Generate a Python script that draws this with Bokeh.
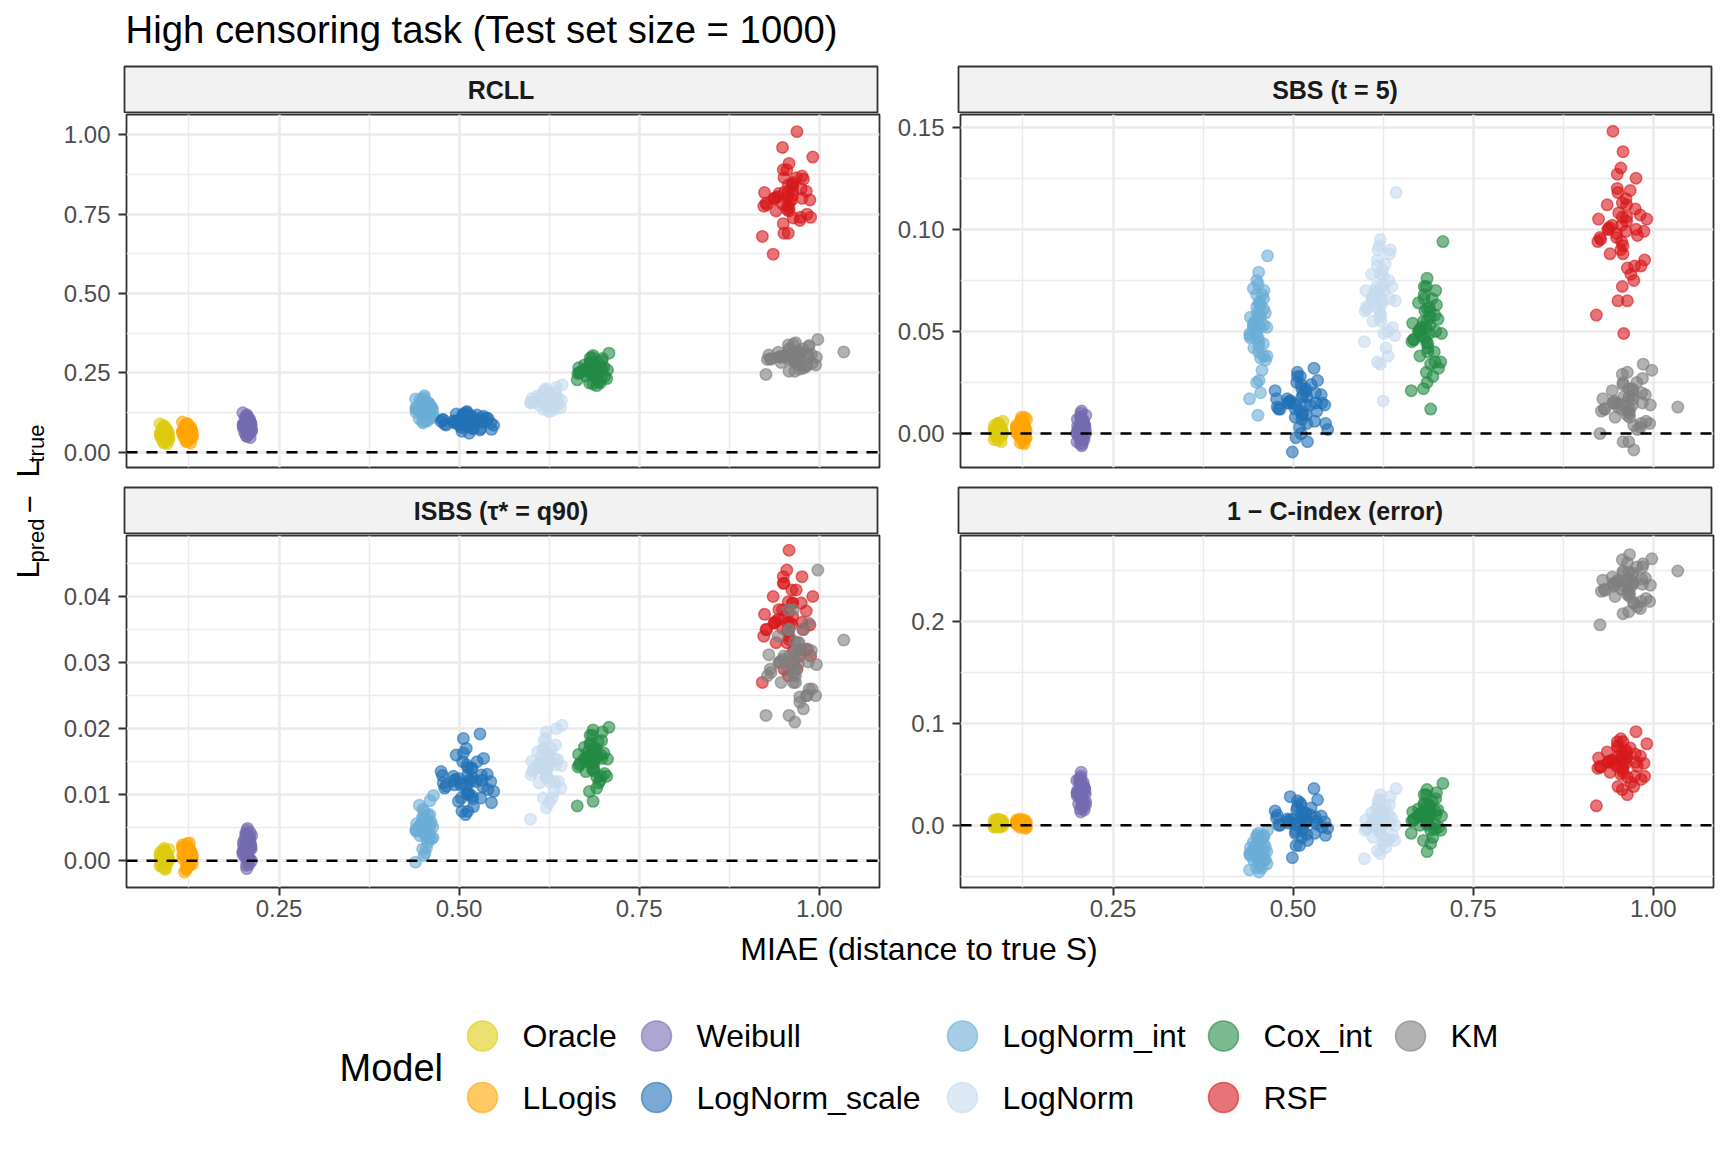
import math
from bokeh.plotting import figure
from bokeh.layouts import row, column
from bokeh.models import Range1d, FixedTicker, PrintfTickFormatter, Span
from bokeh.core.properties import value
from bokeh.embed import file_html
from bokeh.resources import INLINE

FONT = "Liberation Sans"

# ---------------- data ----------------
models = ["Oracle", "LLogis", "Weibull", "LogNorm_scale", "LogNorm_int",
          "LogNorm", "Cox_int", "RSF", "KM"]
draw_order = ["Oracle", "LLogis", "Weibull", "LogNorm_int", "LogNorm_scale",
              "LogNorm", "Cox_int", "RSF", "KM"]
colors = {"Oracle": "#DDCC11", "LLogis": "#FFA500", "Weibull": "#756BB1",
          "LogNorm_scale": "#2171B5", "LogNorm_int": "#6BAED6",
          "LogNorm": "#C6DBEF", "Cox_int": "#238B45", "RSF": "#D7191C",
          "KM": "#7F7F7F"}

panel_titles = ["RCLL", "SBS (t = 5)", "ISBS (\u03c4* = q90)", "1 \u2212 C-index (error)"]
x_ticks = [0.25, 0.50, 0.75, 1.00]
x_minor = [0.125, 0.375, 0.625, 0.875]

# MIAE of each replicate (x position, shared by all four panels)
miae = {
    "Oracle": [0.0875,0.0945,0.0912,0.0899,0.0969,0.0921,0.0850,0.0905,0.0934,0.0895,
               0.0925,0.0880,0.0972,0.0915,0.0902,0.0855,0.0948,0.0918,0.0908,0.0872,
               0.0959,0.0913,0.0848,0.0924,0.0942,0.0897,0.0910,0.0886,0.0951,0.0907,
               0.0923,0.0878,0.0943,0.0909,0.0852,0.0901,0.0966,0.0914,0.0884,0.0936,
               0.0906,0.0896,0.0957,0.0871,0.0927,0.0911,0.0947,0.0858,0.0893,0.0919],
    "LLogis": [0.1190,0.1270,0.1232,0.1215,0.1297,0.1245,0.1163,0.1228,0.1257,0.1219,
               0.1241,0.1193,0.1300,0.1233,0.1214,0.1160,0.1268,0.1246,0.1229,0.1187,
               0.1286,0.1231,0.1158,0.1243,0.1272,0.1218,0.1227,0.1203,0.1274,0.1234,
               0.1244,0.1192,0.1268,0.1230,0.1165,0.1216,0.1295,0.1233,0.1205,0.1259,
               0.1228,0.1213,0.1284,0.1188,0.1247,0.1231,0.1271,0.1162,0.1220,0.1242],
    "Weibull": [0.2025,0.2095,0.2062,0.2049,0.2119,0.2071,0.2000,0.2055,0.2084,0.2045,
                0.2075,0.2030,0.2122,0.2065,0.2052,0.2005,0.2098,0.2068,0.2058,0.2022,
                0.2109,0.2063,0.1998,0.2074,0.2092,0.2047,0.2060,0.2036,0.2101,0.2057,
                0.2073,0.2028,0.2093,0.2059,0.2002,0.2051,0.2116,0.2064,0.2034,0.2086,
                0.2056,0.2046,0.2107,0.2021,0.2077,0.2061,0.2097,0.2008,0.2043,0.2069],
    "LogNorm_int": [0.4450,0.4590,0.4525,0.4495,0.4638,0.4545,0.4400,0.4515,0.4568,0.4492,
                    0.4540,0.4455,0.4645,0.4528,0.4500,0.4405,0.4593,0.4548,0.4518,0.4448,
                    0.4618,0.4522,0.4395,0.4543,0.4588,0.4496,0.4512,0.4472,0.4596,0.4519,
                    0.4544,0.4452,0.4591,0.4521,0.4402,0.4497,0.4635,0.4524,0.4470,0.4570,
                    0.4516,0.4494,0.4615,0.4446,0.4547,0.4523,0.4594,0.4408,0.4491,0.4541],
    "LogNorm_scale": [0.494,0.531,0.513,0.505,0.545,0.519,0.480,0.510,0.524,0.503,
                      0.517,0.496,0.548,0.514,0.506,0.478,0.533,0.520,0.511,0.492,
                      0.540,0.512,0.475,0.518,0.529,0.504,0.509,0.499,0.534,0.511,
                      0.518,0.495,0.530,0.512,0.482,0.506,0.544,0.513,0.500,0.525,
                      0.510,0.504,0.539,0.493,0.519,0.512,0.532,0.477,0.503,0.517],
    "LogNorm": [0.610,0.633,0.622,0.617,0.641,0.626,0.602,0.620,0.629,0.618,
                0.624,0.611,0.643,0.621,0.616,0.600,0.634,0.625,0.619,0.609,
                0.638,0.621,0.599,0.626,0.632,0.617,0.620,0.614,0.635,0.622,
                0.625,0.610,0.632,0.621,0.603,0.618,0.642,0.622,0.613,0.628,
                0.620,0.617,0.637,0.609,0.626,0.621,0.634,0.601,0.616,0.624],
    "Cox_int": [0.675,0.697,0.687,0.682,0.705,0.690,0.667,0.685,0.694,0.681,
                0.689,0.676,0.708,0.686,0.683,0.665,0.698,0.691,0.684,0.674,
                0.702,0.686,0.664,0.690,0.696,0.682,0.685,0.679,0.699,0.687,
                0.690,0.676,0.697,0.686,0.668,0.682,0.706,0.687,0.678,0.693,
                0.685,0.681,0.701,0.674,0.691,0.686,0.698,0.666,0.683,0.689],
    "RSF": [0.938,0.975,0.958,0.950,0.988,0.963,0.926,0.955,0.969,0.949,
            0.962,0.940,0.991,0.957,0.952,0.923,0.976,0.964,0.956,0.936,
            0.983,0.958,0.921,0.963,0.973,0.951,0.955,0.944,0.978,0.959,
            0.963,0.939,0.974,0.957,0.927,0.950,0.987,0.958,0.943,0.968,
            0.956,0.951,0.982,0.937,0.964,0.957,0.976,0.924,0.949,0.962],
    "KM": [0.945,0.984,0.967,0.958,0.995,0.972,0.932,0.964,0.978,0.957,
           0.971,0.947,0.998,0.966,0.959,0.928,0.985,0.973,0.965,0.943,
           0.990,0.967,0.926,0.972,0.982,0.958,0.964,0.951,0.986,1.034,
           0.972,0.946,0.983,0.966,0.933,0.957,0.996,0.967,0.950,0.977,
           0.965,0.958,0.989,0.944,0.973,0.966,0.985,0.930,0.956,0.971],
}

rcll = {
    "Oracle": [0.055,0.062,0.048,0.071,0.040,0.066,0.058,0.083,0.035,0.052,
               0.060,0.075,0.045,0.068,0.030,0.057,0.064,0.050,0.078,0.043,
               0.061,0.054,0.089,0.038,0.070,0.047,0.059,0.066,0.027,0.056,
               0.068,0.059,0.043,0.063,0.052,0.080,0.057,0.048,0.060,0.074,
               0.054,0.032,0.064,0.056,0.042,0.069,0.058,0.062,0.051,0.057],
    "LLogis": [0.062,0.070,0.055,0.081,0.048,0.074,0.066,0.090,0.041,0.059,
               0.068,0.085,0.052,0.077,0.034,0.064,0.071,0.057,0.088,0.046,
               0.069,0.061,0.095,0.038,0.079,0.053,0.067,0.073,0.029,0.063,
               0.074,0.064,0.046,0.068,0.056,0.086,0.062,0.052,0.065,0.080,
               0.058,0.034,0.069,0.061,0.045,0.073,0.063,0.067,0.057,0.062],
    "Weibull": [0.082,0.092,0.074,0.104,0.066,0.096,0.086,0.118,0.058,0.079,
                0.089,0.110,0.070,0.100,0.050,0.084,0.094,0.076,0.113,0.062,
                0.090,0.081,0.124,0.055,0.102,0.072,0.087,0.097,0.046,0.083,
                0.098,0.086,0.066,0.091,0.077,0.113,0.084,0.072,0.087,0.105,
                0.079,0.052,0.092,0.083,0.065,0.097,0.085,0.090,0.078,0.084],
    "LogNorm_int": [0.132,0.145,0.120,0.160,0.110,0.150,0.138,0.172,0.100,0.128,
                    0.142,0.165,0.115,0.155,0.092,0.135,0.148,0.124,0.178,0.105,
                    0.140,0.130,0.168,0.098,0.152,0.118,0.137,0.158,0.126,0.143,
                    0.150,0.136,0.113,0.142,0.126,0.166,0.134,0.120,0.137,0.157,
                    0.128,0.097,0.143,0.133,0.112,0.151,0.135,0.141,0.127,0.134],
    "LogNorm_scale": [0.095,0.108,0.082,0.118,0.072,0.100,0.088,0.125,0.100,0.078,
                      0.112,0.120,0.085,0.060,0.115,0.103,0.094,0.076,0.122,0.099,
                      0.106,0.083,0.097,0.090,0.070,0.110,0.096,0.087,0.113,0.128,
                      0.114,0.098,0.075,0.104,0.086,0.121,0.092,0.080,0.101,0.117,
                      0.089,0.066,0.107,0.093,0.074,0.111,0.097,0.102,0.084,0.091],
    "LogNorm": [0.162,0.170,0.152,0.185,0.140,0.166,0.158,0.200,0.132,0.160,
                0.175,0.148,0.212,0.145,0.168,0.156,0.190,0.128,0.164,0.178,
                0.150,0.195,0.155,0.172,0.138,0.182,0.153,0.169,0.205,0.160,
                0.176,0.166,0.150,0.170,0.160,0.193,0.164,0.155,0.167,0.183,
                0.159,0.135,0.171,0.165,0.149,0.177,0.165,0.169,0.161,0.164],
    "Cox_int": [0.255,0.265,0.245,0.280,0.232,0.260,0.250,0.298,0.222,0.258,
                0.272,0.240,0.312,0.215,0.262,0.248,0.288,0.210,0.256,0.275,
                0.238,0.305,0.228,0.268,0.218,0.285,0.242,0.263,0.295,0.252,
                0.275,0.261,0.235,0.267,0.252,0.297,0.259,0.242,0.262,0.285,
                0.251,0.218,0.268,0.260,0.234,0.276,0.260,0.266,0.253,0.259],
    "RSF": [0.800,0.830,0.770,0.720,0.740,0.810,0.785,0.890,1.010,0.960,
            0.845,0.760,0.930,0.690,0.820,0.775,0.870,0.850,0.805,0.624,
            0.750,0.910,0.680,0.825,0.730,0.865,0.765,0.815,0.860,0.790,
            0.840,0.802,0.740,0.820,0.780,0.890,0.795,0.760,0.805,0.865,
            0.778,0.690,0.822,0.798,0.738,0.842,0.800,0.818,0.782,0.796],
    "KM": [0.300,0.310,0.290,0.325,0.275,0.305,0.295,0.340,0.265,0.302,
           0.318,0.283,0.355,0.255,0.308,0.292,0.332,0.262,0.298,0.315,
           0.280,0.345,0.245,0.306,0.270,0.322,0.288,0.303,0.336,0.316,
           0.315,0.301,0.275,0.307,0.293,0.338,0.299,0.283,0.302,0.325,
           0.292,0.255,0.308,0.300,0.274,0.316,0.300,0.306,0.294,0.299],
}

sbs = {
    "Oracle": [0.001,0.003,-0.001,0.004,0.000,0.002,-0.003,0.005,0.001,-0.002,
               0.003,0.000,0.006,-0.001,0.002,0.004,-0.004,0.001,0.003,-0.002,
               0.000,0.005,0.002,-0.001,0.001,0.004,-0.003,0.002,0.000,0.003,
               0.0030,0.0013,-0.0016,0.0021,0.0003,0.0048,0.0010,-0.0005,0.0014,0.0038,
               0.0002,-0.0030,0.0019,0.0011,-0.0014,0.0029,0.0012,0.0022,0.0004,0.0010],
    "LLogis": [0.002,0.004,0.000,0.006,-0.002,0.003,0.001,0.008,-0.004,0.005,
               0.002,-0.001,0.007,0.003,0.000,0.004,-0.005,0.002,0.006,0.001,
               -0.002,0.005,0.003,0.000,0.008,0.002,-0.003,0.004,0.001,0.003,
               0.0038,0.0015,-0.0022,0.0026,0.0002,0.0064,0.0013,-0.0010,0.0016,0.0050,
               0.0001,-0.0045,0.0027,0.0012,-0.0021,0.0037,0.0014,0.0025,0.0003,0.0013],
    "Weibull": [0.002,0.005,-0.001,0.008,0.000,0.004,-0.004,0.010,0.003,-0.002,
                0.006,0.001,0.009,-0.006,0.003,0.007,-0.003,0.002,0.005,-0.001,
                0.004,0.011,0.000,-0.005,0.006,0.002,0.008,-0.002,0.003,0.001,
                0.0050,0.0023,-0.0022,0.0036,0.0007,0.0082,0.0020,-0.0008,0.0024,0.0065,
                0.0006,-0.0050,0.0037,0.0021,-0.0021,0.0049,0.0022,0.0035,0.0008,0.0021],
    "LogNorm_int": [0.052,0.061,0.045,0.068,0.038,0.057,0.049,0.073,0.031,0.055,
                    0.064,0.042,0.087,0.026,0.059,0.047,0.066,0.020,0.053,0.071,
                    0.036,0.079,0.017,0.058,0.044,0.062,0.009,0.050,0.070,0.040,
                    0.063,0.054,0.038,0.058,0.048,0.075,0.052,0.043,0.055,0.068,
                    0.047,0.025,0.059,0.053,0.037,0.064,0.053,0.057,0.049,0.052],
    "LogNorm_scale": [0.015,0.020,0.010,0.025,0.005,0.018,0.012,0.028,0.014,0.008,
                      0.022,0.016,0.002,0.019,0.030,0.013,0.011,-0.004,0.024,0.017,
                      0.015,0.007,0.021,0.009,0.032,0.014,0.003,-0.009,0.026,0.000,
                      0.021,0.016,0.006,0.018,0.012,0.028,0.014,0.009,0.015,0.024,
                      0.011,-0.002,0.019,0.015,0.005,0.022,0.015,0.017,0.012,0.014],
    "LogNorm": [0.065,0.075,0.058,0.085,0.048,0.070,0.062,0.092,0.042,0.068,
                0.080,0.055,0.118,0.034,0.072,0.060,0.088,0.016,0.066,0.078,
                0.052,0.095,0.045,0.073,0.038,0.082,0.057,0.070,0.090,0.063,
                0.077,0.067,0.050,0.071,0.061,0.090,0.065,0.055,0.068,0.083,
                0.060,0.035,0.072,0.066,0.049,0.078,0.066,0.070,0.062,0.065],
    "Cox_int": [0.050,0.058,0.042,0.066,0.035,0.053,0.046,0.072,0.028,0.055,
                0.062,0.038,0.094,0.025,0.060,0.045,0.070,0.012,0.052,0.064,
                0.032,0.076,0.021,0.057,0.040,0.068,0.030,0.048,0.063,0.044,
                0.060,0.051,0.035,0.055,0.046,0.072,0.049,0.040,0.052,0.066,
                0.045,0.022,0.056,0.050,0.034,0.061,0.050,0.054,0.047,0.049],
    "RSF": [0.100,0.110,0.092,0.120,0.085,0.104,0.096,0.130,0.078,0.098,
            0.115,0.088,0.105,0.072,0.108,0.094,0.125,0.065,0.102,0.112,
            0.082,0.138,0.058,0.106,0.075,0.118,0.090,0.148,0.097,0.049,
            0.112,0.101,0.082,0.106,0.095,0.127,0.099,0.088,0.102,0.119,
            0.094,0.065,0.107,0.100,0.081,0.113,0.100,0.105,0.096,0.099],
    "KM": [0.015,0.020,0.010,0.025,0.005,0.017,0.012,0.030,0.002,0.014,
           0.022,0.008,0.031,-0.004,0.018,0.011,0.027,-0.008,0.016,0.021,
           0.006,0.012,0.000,0.019,0.003,0.024,0.009,0.013,0.034,0.013,
           0.021,0.016,0.005,0.018,0.012,0.029,0.014,0.008,0.015,0.025,
           0.011,-0.004,0.019,0.015,0.004,0.022,0.015,0.017,0.012,0.014],
}

isbs = {
    "Oracle": [0.0004,0.0010,-0.0003,0.0015,0.0001,0.0008,-0.0008,0.0019,0.0005,-0.0005,
               0.0012,0.0002,0.0017,-0.0011,0.0007,0.0013,-0.0002,0.0006,0.0016,-0.0007,
               0.0003,0.0011,0.0009,-0.0013,0.0004,0.0014,0.0000,0.0008,0.0002,0.0012,
               0.0008,0.0003,-0.0005,0.0006,0.0001,0.0014,0.0004,-0.0002,0.0003,0.0011,
               0.0000,-0.0010,0.0006,0.0003,-0.0005,0.0009,0.0002,0.0007,0.0001,0.0004],
    "LLogis": [0.0008,0.0015,0.0002,0.0022,-0.0005,0.0011,0.0018,0.0004,0.0027,-0.0012,
               0.0009,0.0020,0.0006,0.0014,-0.0008,0.0024,0.0010,0.0001,0.0017,-0.0017,
               0.0012,0.0007,0.0021,-0.0003,0.0013,0.0005,0.0026,0.0009,-0.0001,0.0016,
               0.0014,0.0006,-0.0006,0.0010,0.0003,0.0022,0.0007,-0.0002,0.0005,0.0018,
               0.0002,-0.0013,0.0011,0.0006,-0.0007,0.0015,0.0005,0.0009,0.0003,0.0007],
    "Weibull": [0.0018,0.0030,0.0008,0.0040,0.0000,0.0025,0.0014,0.0046,-0.0006,0.0034,
                0.0020,0.0005,0.0038,0.0012,-0.0012,0.0028,0.0043,0.0016,0.0002,0.0032,
                0.0022,0.0049,0.0010,-0.0003,0.0036,0.0024,0.0007,0.0041,0.0019,0.0027,
                0.0029,0.0019,0.0003,0.0024,0.0014,0.0040,0.0018,0.0008,0.0020,0.0034,
                0.0013,-0.0007,0.0025,0.0018,0.0004,0.0030,0.0019,0.0023,0.0015,0.0018],
    "LogNorm_int": [0.0050,0.0058,0.0042,0.0066,0.0035,0.0053,0.0047,0.0075,0.0028,0.0055,
                    0.0062,0.0038,0.0099,0.0012,0.0051,0.0045,0.0070,0.0020,0.0057,0.0084,
                    0.0033,0.0060,-0.0002,0.0048,0.0041,0.0064,0.0008,0.0054,0.0091,0.0044,
                    0.0063,0.0053,0.0035,0.0057,0.0046,0.0078,0.0051,0.0040,0.0054,0.0069,
                    0.0045,0.0018,0.0058,0.0052,0.0034,0.0064,0.0052,0.0056,0.0047,0.0051],
    "LogNorm_scale": [0.0115,0.0130,0.0100,0.0150,0.0088,0.0125,0.0110,0.0170,0.0120,0.0095,
                      0.0140,0.0160,0.0105,0.0122,0.0185,0.0118,0.0112,0.0082,0.0145,0.0128,
                      0.0108,0.0075,0.0135,0.0098,0.0192,0.0117,0.0070,0.0090,0.0155,0.0102,
                      0.0140,0.0123,0.0095,0.0130,0.0113,0.0163,0.0120,0.0103,0.0124,0.0150,
                      0.0112,0.0075,0.0131,0.0121,0.0094,0.0141,0.0122,0.0129,0.0114,0.0120],
    "LogNorm": [0.0140,0.0155,0.0125,0.0170,0.0110,0.0148,0.0135,0.0185,0.0095,0.0142,
                0.0162,0.0118,0.0205,0.0080,0.0150,0.0130,0.0175,0.0088,0.0145,0.0165,
                0.0120,0.0195,0.0063,0.0152,0.0105,0.0168,0.0128,0.0158,0.0200,0.0138,
                0.0160,0.0146,0.0120,0.0152,0.0138,0.0182,0.0144,0.0128,0.0147,0.0170,
                0.0137,0.0095,0.0153,0.0145,0.0119,0.0161,0.0145,0.0151,0.0139,0.0144],
    "Cox_int": [0.0150,0.0160,0.0140,0.0175,0.0128,0.0155,0.0145,0.0190,0.0118,0.0152,
                0.0168,0.0135,0.0202,0.0090,0.0158,0.0142,0.0182,0.0110,0.0153,0.0172,
                0.0132,0.0198,0.0083,0.0162,0.0122,0.0178,0.0138,0.0165,0.0195,0.0148,
                0.0170,0.0156,0.0128,0.0162,0.0148,0.0190,0.0154,0.0136,0.0157,0.0180,
                0.0147,0.0105,0.0163,0.0155,0.0127,0.0171,0.0155,0.0161,0.0149,0.0154],
    "RSF": [0.036,0.039,0.034,0.042,0.031,0.037,0.035,0.044,0.029,0.038,
            0.041,0.033,0.040,0.028,0.037,0.034,0.043,0.030,0.036,0.040,
            0.032,0.047,0.027,0.039,0.031,0.042,0.033,0.038,0.035,0.036,
            0.0390,0.0362,0.0320,0.0375,0.0350,0.0430,0.0357,0.0335,0.0365,0.0410,
            0.0348,0.0290,0.0378,0.0360,0.0318,0.0392,0.0361,0.0373,0.0352,0.0358],
    "KM": [0.030,0.032,0.028,0.035,0.025,0.031,0.029,0.038,0.023,0.030,
           0.033,0.027,0.044,0.021,0.031,0.028,0.036,0.024,0.030,0.034,
           0.026,0.029,0.022,0.032,0.025,0.035,0.027,0.031,0.026,0.0334,
           0.0330,0.0302,0.0250,0.0315,0.0285,0.0380,0.0297,0.0270,0.0305,0.0350,
           0.0283,0.0220,0.0318,0.0300,0.0248,0.0332,0.0301,0.0312,0.0287,0.0298],
}

cerr = {
    "Oracle": [0.001,0.003,0.000,0.004,-0.001,0.002,0.005,0.001,-0.002,0.003,
               0.002,0.000,0.004,0.001,0.006,-0.001,0.002,0.003,0.000,0.004,
               0.001,0.002,-0.002,0.003,0.005,0.001,0.000,0.002,0.004,0.001,
               0.0030,0.0016,-0.0005,0.0024,0.0010,0.0045,0.0017,0.0002,0.0015,0.0038,
               0.0009,-0.0018,0.0025,0.0014,-0.0006,0.0031,0.0016,0.0023,0.0008,0.0015],
    "LLogis": [0.002,0.000,0.004,0.001,0.003,-0.001,0.005,0.002,0.000,0.003,
               0.001,0.004,-0.002,0.002,0.006,0.001,0.003,0.000,0.002,0.004,
               -0.003,0.001,0.003,0.002,0.005,0.000,0.002,0.004,0.001,0.003,
               0.0030,0.0016,-0.0010,0.0021,0.0010,0.0047,0.0014,0.0001,0.0017,0.0037,
               0.0009,-0.0022,0.0022,0.0015,-0.0009,0.0029,0.0016,0.0020,0.0011,0.0014],
    "Weibull": [0.030,0.036,0.025,0.042,0.020,0.038,0.032,0.048,0.017,0.028,
                0.034,0.045,0.023,0.040,0.013,0.031,0.037,0.027,0.052,0.021,
                0.035,0.029,0.044,0.019,0.039,0.026,0.033,0.041,0.015,0.032,
                0.038,0.033,0.023,0.035,0.029,0.046,0.031,0.026,0.032,0.042,
                0.030,0.016,0.036,0.032,0.022,0.039,0.032,0.034,0.028,0.033],
    "LogNorm_int": [-0.025,-0.018,-0.032,-0.012,-0.038,-0.022,-0.028,-0.008,-0.042,-0.020,
                    -0.015,-0.035,-0.005,-0.046,-0.026,-0.030,-0.010,-0.040,-0.024,-0.017,
                    -0.034,-0.013,-0.044,-0.021,-0.029,-0.019,-0.036,-0.023,-0.011,-0.031,
                    -0.018,-0.024,-0.035,-0.022,-0.028,-0.010,-0.026,-0.032,-0.023,-0.014,
                    -0.029,-0.042,-0.021,-0.025,-0.036,-0.017,-0.025,-0.022,-0.027,-0.024],
    "LogNorm_scale": [0.002,0.008,-0.005,0.015,-0.010,0.005,0.000,0.022,0.010,-0.008,
                      0.012,0.028,-0.003,0.004,0.018,0.010,0.001,-0.015,0.020,0.006,
                      -0.002,-0.012,0.014,0.003,0.036,-0.006,-0.020,-0.032,0.025,0.007,
                      0.012,0.005,-0.008,0.008,0.000,0.024,0.003,-0.004,0.006,0.017,
                      -0.001,-0.020,0.009,0.004,-0.009,0.013,0.004,0.007,0.001,0.003],
    "LogNorm": [0.002,0.010,-0.008,0.018,-0.015,0.005,-0.003,0.025,-0.022,0.000,
                0.014,-0.012,0.036,-0.028,0.008,-0.005,0.020,-0.018,0.003,0.012,
                -0.010,0.030,-0.033,0.006,-0.014,0.016,-0.006,0.009,0.028,-0.001,
                0.011,0.002,-0.014,0.006,-0.003,0.024,0.000,-0.008,0.003,0.017,
                -0.004,-0.025,0.007,0.001,-0.015,0.012,0.001,0.005,-0.002,0.000],
    "Cox_int": [0.008,0.014,0.002,0.022,-0.005,0.010,0.005,0.030,-0.012,0.009,
                0.018,0.000,0.041,-0.026,0.012,0.004,0.026,-0.018,0.007,0.016,
                -0.002,0.035,-0.008,0.013,0.001,0.020,0.006,0.011,0.032,0.003,
                0.019,0.011,-0.004,0.014,0.006,0.030,0.009,0.000,0.012,0.024,
                0.005,-0.015,0.015,0.010,-0.005,0.020,0.010,0.013,0.007,0.009],
    "RSF": [0.062,0.070,0.055,0.078,0.048,0.066,0.058,0.085,0.042,0.060,
            0.074,0.052,0.080,0.035,0.068,0.056,0.092,0.030,0.064,0.072,
            0.045,0.082,0.019,0.067,0.038,0.076,0.050,0.063,0.058,0.061,
            0.071,0.063,0.048,0.067,0.057,0.082,0.061,0.052,0.064,0.076,
            0.056,0.038,0.068,0.062,0.047,0.072,0.062,0.066,0.058,0.061],
    "KM": [0.235,0.242,0.228,0.250,0.220,0.238,0.232,0.258,0.215,0.236,
           0.246,0.225,0.262,0.210,0.240,0.230,0.254,0.218,0.237,0.244,
           0.223,0.266,0.197,0.239,0.213,0.248,0.227,0.241,0.257,0.250,
           0.248,0.238,0.220,0.242,0.231,0.261,0.236,0.225,0.239,0.254,
           0.230,0.208,0.243,0.237,0.219,0.249,0.237,0.241,0.232,0.236],
}

panel_data = [rcll, sbs, isbs, cerr]
y_ticks = [[0.00, 0.25, 0.50, 0.75, 1.00],
           [0.00, 0.05, 0.10, 0.15],
           [0.00, 0.01, 0.02, 0.03, 0.04],
           [0.0, 0.1, 0.2]]
y_minor = [[0.125, 0.375, 0.625, 0.875],
           [0.025, 0.075, 0.125],
           [0.005, 0.015, 0.025, 0.035, 0.045],
           [-0.05, 0.05, 0.15, 0.25]]
y_fmt = ["%.2f", "%.2f", "%.2f", "%.1f"]
y_limits = [(-0.0482, 1.064), (-0.0166, 0.1562), (-0.00404, 0.04923), (-0.0613, 0.2849)]
x_limits = (0.0383, 1.0836)

# ---------------- styling helpers ----------------
FRAME_W = 753
GRID = "#EBEBEB"
BORDER = "#333333"
TOTAL_W = 1717


def base_fig(**kw):
    p = figure(output_backend="svg", toolbar_location=None, **kw)
    p.border_fill_color = "white"
    p.background_fill_color = "white"
    return p


def make_strip(label, left):
    s = base_fig(frame_width=FRAME_W, frame_height=46,
                 x_range=Range1d(0, 1), y_range=Range1d(0, 1),
                 x_axis_type=None, y_axis_type=None,
                 min_border_left=64 if left else 79,
                 min_border_right=2 if left else 6,
                 min_border_top=1, min_border_bottom=1)
    s.background_fill_color = "#F2F2F2"
    s.outline_line_color = BORDER
    s.outline_line_width = 1.8
    s.text(x=[0.5], y=[0.5], text=[label], text_align="center",
           text_baseline="middle", text_font=value(FONT),
           text_font_style="bold", text_font_size="25px", text_color="#1A1A1A")
    return s


def make_panel(i, left, bottom):
    data = panel_data[i]
    p = base_fig(frame_width=FRAME_W, frame_height=352 if bottom else 353,
                 x_range=Range1d(*x_limits), y_range=Range1d(*y_limits[i]),
                 min_border_left=64 if left else 79,
                 min_border_right=2 if left else 6,
                 min_border_top=1, min_border_bottom=42 if bottom else 19)
    p.outline_line_color = BORDER
    p.outline_line_width = 1.8
    xt = FixedTicker(ticks=x_ticks, minor_ticks=x_minor)
    yt = FixedTicker(ticks=y_ticks[i], minor_ticks=y_minor[i])
    p.xaxis.ticker = xt
    p.xgrid.ticker = xt
    p.yaxis.ticker = yt
    p.ygrid.ticker = yt
    for g in (p.xgrid, p.ygrid):
        g.grid_line_color = GRID
        g.grid_line_width = 2.6
        g.minor_grid_line_color = GRID
        g.minor_grid_line_width = 1.5
    for ax in (p.xaxis, p.yaxis):
        ax.axis_line_color = None
        ax.major_tick_line_color = BORDER
        ax.major_tick_line_width = 2
        ax.major_tick_out = 8
        ax.major_tick_in = 0
        ax.minor_tick_line_color = None
        ax.major_label_text_font = FONT
        ax.major_label_text_font_size = "24px"
        ax.major_label_text_color = "#4D4D4D"
    p.xaxis.major_label_standoff = 4
    p.yaxis.major_label_standoff = 8
    p.xaxis.formatter = PrintfTickFormatter(format="%.2f")
    p.yaxis.formatter = PrintfTickFormatter(format=y_fmt[i])
    if not bottom:
        p.xaxis.visible = False
    for m in draw_order:
        c = colors[m]
        p.scatter(miae[m], data[m], size=11.5, marker="circle",
                  fill_color=c, line_color=c, fill_alpha=0.6, line_alpha=0.6,
                  line_width=1.5)
    p.add_layout(Span(location=0, dimension="width", line_color="black",
                      line_width=2.5, line_dash="11 9"))
    return p


def plain(width, height):
    f = base_fig(width=width, height=height, x_range=Range1d(0, width),
                 y_range=Range1d(0, height), x_axis_type=None, y_axis_type=None,
                 min_border=0)
    f.outline_line_color = None
    return f


# ---------------- header (title) ----------------
header = plain(TOTAL_W, 65)
header.text(x=[125], y=[36.2], text=["High censoring task (Test set size = 1000)"],
            text_align="left", text_baseline="middle", text_font=value(FONT),
            text_font_size="38.3px", text_color="black")

# ---------------- y-axis label (L_pred - L_true) ----------------
ylab = plain(60, 864)
A = math.pi / 2
ylab_parts = [("L", 27.5, 930 - 579, "31px", "left"),
              ("pred", 36.4, 930 - 563, "22px", "left"),
              ("\u2212", 28.0, 930 - 505, "31px", "center"),
              ("L", 27.5, 930 - 478, "31px", "left"),
              ("true", 36.4, 930 - 463, "22px", "left")]
for txt, px, py, fs, al in ylab_parts:
    ylab.text(x=[px], y=[py], text=[txt], angle=A, text_align=al,
              text_baseline="middle", text_font=value(FONT),
              text_font_size=fs, text_color="black")

# ---------------- panels ----------------
grid_block = column(
    row(make_strip(panel_titles[0], True), make_strip(panel_titles[1], False)),
    row(make_panel(0, True, False), make_panel(1, False, False)),
    row(make_strip(panel_titles[2], True), make_strip(panel_titles[3], False)),
    row(make_panel(2, True, True), make_panel(3, False, True)),
)

# ---------------- x-axis title ----------------
xlab = plain(TOTAL_W, 42)
xlab.text(x=[918.5], y=[23], text=["MIAE (distance to true S)"],
          text_align="center", text_baseline="middle", text_font=value(FONT),
          text_font_size="32px", text_color="black")

# ---------------- legend ----------------
leg = plain(TOTAL_W, 164)
leg.text(x=[339], y=[67.3], text=["Model"], text_align="left",
         text_baseline="middle", text_font=value(FONT),
         text_font_size="38px", text_color="black")
col_x = [482, 656, 962, 1223, 1410]
row_y = [99.5, 38]
for k, m in enumerate(models):
    cx = col_x[k // 2]
    cy = row_y[k % 2]
    c = colors[m]
    leg.scatter([cx], [cy], size=30, marker="circle", fill_color=c, line_color=c,
                fill_alpha=0.6, line_alpha=0.6, line_width=1.5)
    leg.text(x=[cx + 40], y=[cy], text=[m], text_align="left",
             text_baseline="middle", text_font=value(FONT),
             text_font_size="32px", text_color="black")

layout = column(header, row(ylab, grid_block), xlab, leg)

with open("out.html", "w") as f:
    f.write(file_html(layout, INLINE))
